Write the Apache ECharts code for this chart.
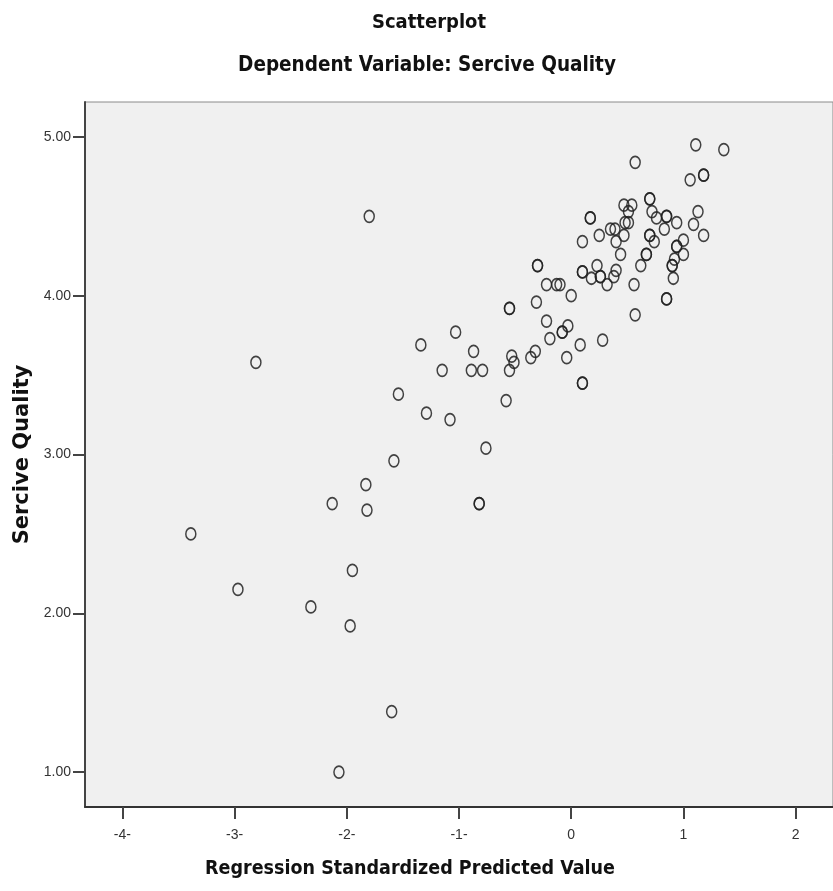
<!DOCTYPE html>
<html>
<head>
<meta charset="utf-8">
<script src="https://cdn.jsdelivr.net/npm/echarts@6/dist/echarts.min.js"></script>
<style>
html,body{margin:0;padding:0;background:#fff;}
#chart{width:833px;height:891px;}
</style>
</head>
<body>
<div id="chart"></div>
<script>
// Regression standardized predicted value (x) and Sercive Quality (y)
var predictedValues = [
  -1.80, -2.81, -3.39, -2.97, -2.32, -1.97, -1.95, -2.13, -1.83, -1.82,
  -1.58, -1.60, -2.07, -1.54, -1.29, -1.08, -1.34, -1.03, -1.15, -0.87,
  -0.89, -0.79, -0.82, -0.82, -0.76, -0.58, -0.55, -0.51, -0.53, -0.55,
  -0.55, -0.36, -0.32, -0.04, 0.08, 0.28, -0.19, -0.08, -0.08, -0.03,
  -0.22, -0.31, 0.00, 0.57, 0.10, 0.10, -0.22, -0.13, -0.10, -0.30,
  -0.30, 0.85, 0.85, 0.10, 0.10, 0.10, 0.17, 0.17, 0.23, 0.18,
  0.26, 0.26, 0.32, 0.38, 0.40, 0.56, 0.62, 0.44, 0.40, 0.25,
  0.35, 0.39, 0.47, 0.48, 0.51, 0.51, 0.47, 0.54, 0.57, 0.70,
  0.70, 0.72, 0.76, 0.85, 0.85, 0.83, 0.94, 1.09, 1.13, 1.06,
  1.18, 1.18, 1.11, 1.36, 0.70, 0.70, 0.74, 0.67, 0.67, 1.00,
  0.94, 0.94, 1.00, 0.92, 0.90, 0.90, 0.91, 1.18
];
var serviceQuality = [
  4.50, 3.58, 2.50, 2.15, 2.04, 1.92, 2.27, 2.69, 2.81, 2.65,
  2.96, 1.38, 1.00, 3.38, 3.26, 3.22, 3.69, 3.77, 3.53, 3.65,
  3.53, 3.53, 2.69, 2.69, 3.04, 3.34, 3.53, 3.58, 3.62, 3.92,
  3.92, 3.61, 3.65, 3.61, 3.69, 3.72, 3.73, 3.77, 3.77, 3.81,
  3.84, 3.96, 4.00, 3.88, 3.45, 3.45, 4.07, 4.07, 4.07, 4.19,
  4.19, 3.98, 3.98, 4.15, 4.15, 4.34, 4.49, 4.49, 4.19, 4.11,
  4.12, 4.12, 4.07, 4.12, 4.16, 4.07, 4.19, 4.26, 4.34, 4.38,
  4.42, 4.42, 4.38, 4.46, 4.46, 4.53, 4.57, 4.57, 4.84, 4.61,
  4.61, 4.53, 4.49, 4.50, 4.50, 4.42, 4.46, 4.45, 4.53, 4.73,
  4.76, 4.76, 4.95, 4.92, 4.38, 4.38, 4.34, 4.26, 4.26, 4.35,
  4.31, 4.31, 4.26, 4.23, 4.19, 4.19, 4.11, 4.38
];
var xTickValues = [-4, -3, -2, -1, 0, 1, 2];
var xTickLabels = ['-4-', '-3-', '-2-', '-1-', '0', '1', '2'];
var yTickValues = [1, 2, 3, 4, 5];
var yTickLabels = ['1.00', '2.00', '3.00', '4.00', '5.00'];
var chartTitle = 'Scatterplot';
var chartSubtitle = 'Dependent Variable: Sercive Quality';
var xAxisTitle = 'Regression Standardized Predicted Value';
var yAxisTitle = 'Sercive Quality';

var points = predictedValues.map(function (x, i) { return [x, serviceQuality[i]]; });

var narrow = '"Liberation Sans Narrow", "DejaVu Sans Condensed", "Liberation Sans", sans-serif';
var chart = echarts.init(document.getElementById('chart'), null, {renderer: 'canvas'});
chart.setOption({
  backgroundColor: '#ffffff',
  animation: false,
  title: [
    {text: chartTitle, left: 424, top: 8, textAlign: 'center',
     textStyle: {fontFamily: narrow, fontSize: 20, fontWeight: 'bold', color: '#111'}},
    {text: chartSubtitle, left: 422, top: 50, textAlign: 'center',
     textStyle: {fontFamily: narrow, fontSize: 20.5, fontWeight: 'bold', color: '#111'}}
  ],
  grid: {
    left: 85, top: 102, width: 760, height: 705,
    show: true, backgroundColor: '#F0F0F0', borderColor: '#8a8a8a', borderWidth: 1
  },
  xAxis: {
    type: 'value', min: -4.333, max: 2.333,
    name: xAxisTitle, nameLocation: 'middle', nameGap: 52,
    nameTextStyle: {fontFamily: narrow, fontSize: 19.5, fontWeight: 'bold', color: '#111', padding: [0, 98, 0, 0]},
    axisLine: {show: true, onZero: false, lineStyle: {color: '#333', width: 2}},
    axisTick: {show: true, customValues: xTickValues, length: 12, lineStyle: {color: '#444', width: 2}},
    axisLabel: {customValues: xTickValues, margin: 21, fontFamily: '"Liberation Sans", Arial, sans-serif', fontSize: 14, color: '#333',
      formatter: function (v) { var i = xTickValues.indexOf(Math.round(v)); return i >= 0 ? xTickLabels[i] : ''; }},
    splitLine: {show: false}
  },
  yAxis: {
    type: 'value', min: 0.78, max: 5.22,
    name: yAxisTitle, nameLocation: 'middle', nameGap: 50, nameRotate: 90,
    nameTextStyle: {fontFamily: '"DejaVu Sans", "Liberation Sans", sans-serif', fontSize: 21, fontWeight: 'bold', color: '#111'},
    axisLine: {show: true, onZero: false, lineStyle: {color: '#444', width: 2}},
    axisTick: {show: true, customValues: yTickValues, length: 12, lineStyle: {color: '#444', width: 2}},
    axisLabel: {customValues: yTickValues, margin: 14, fontFamily: '"Liberation Sans", Arial, sans-serif', fontSize: 14, color: '#333',
      formatter: function (v) { var i = yTickValues.indexOf(Math.round(v)); return i >= 0 ? yTickLabels[i] : ''; }},
    splitLine: {show: false}
  },
  series: [{
    type: 'scatter',
    data: points,
    symbol: 'circle',
    symbolSize: [10, 12],
    itemStyle: {color: 'rgba(0,0,0,0)', borderColor: '#222', borderWidth: 1.6, opacity: 0.85}
  }]
});
</script>
</body>
</html>
